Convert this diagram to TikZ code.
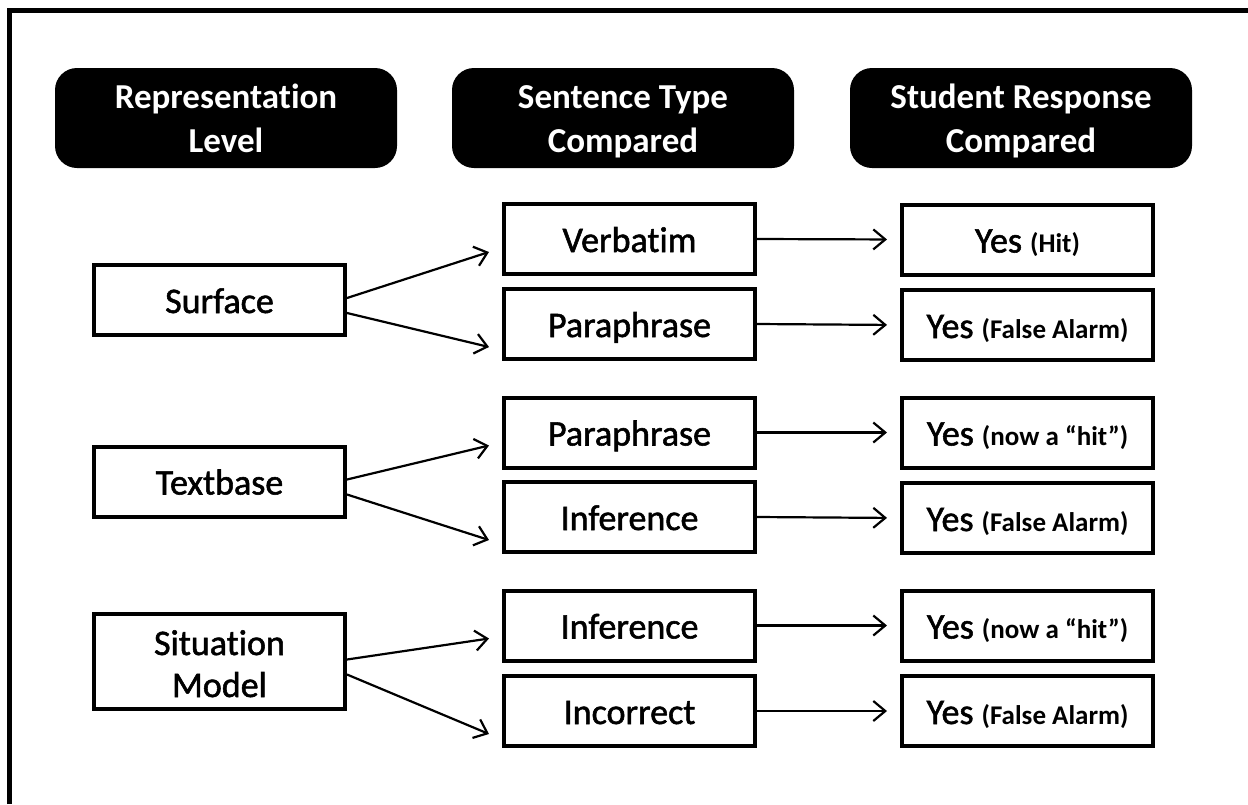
\documentclass[tikz,border=0pt]{standalone}
\usepackage{fontspec}
\setmainfont{Carlito}[Ligatures=NoCommon]
\newfontfamily\boxfont{Carlito}[Ligatures=NoCommon,FakeBold=1.5]
\usetikzlibrary{arrows.meta}
\newcommand\smtxt{\normalfont\bfseries\fontsize{27}{30}\selectfont}
\begin{document}
\begin{tikzpicture}[x=1pt,y=-1pt,
  hdr/.style={fill=black,rounded corners=22pt,minimum width=342pt,minimum height=100pt,inner sep=0pt,
    text=white,font=\bfseries\fontsize{35}{44}\selectfont,align=center},
  lbox/.style={draw=black,line width=4pt,minimum width=251pt,minimum height=70pt,inner sep=0pt,
    font=\boxfont\fontsize{36}{42}\selectfont,align=center},
  one/.style={text height=26pt,text depth=0pt},
  arr/.style={line width=2.2pt,-{Straight Barb[length=12pt,width=20pt,line width=2.2pt]}}
]
\useasboundingbox (0,0) rectangle (1248,804);
\draw[line width=4.5pt] (9.5,804) -- (9.5,10.5) -- (1250,10.5);

\node[hdr] (h1) at (226,118) {\rule{0pt}{32pt}Representation\\Level\rule[-8pt]{0pt}{8pt}};
\node[hdr] (h2) at (623,118) {\rule{0pt}{32pt}Sentence Type\\Compared\rule[-8pt]{0pt}{8pt}};
\node[hdr] (h3) at (1021,118) {\rule{0pt}{32pt}Student Response\\Compared\rule[-8pt]{0pt}{8pt}};

\node[lbox,one] (surf) at (219.5,300) {Surface};
\node[lbox,one] (text) at (219.5,481.5) {Textbase};
\node[lbox,minimum height=95pt] (sit) at (219.5,661.5) {\rule{0pt}{36pt}Situation\\Model\rule[-7pt]{0pt}{7pt}};

\node[lbox,one] (m1) at (629.5,239) {Verbatim};
\node[lbox,one] (m2) at (629.5,324) {Paraphrase};
\node[lbox,one] (m3) at (629.5,432.5) {Paraphrase};
\node[lbox,one] (m4) at (629.5,517) {Inference};
\node[lbox,one] (m5) at (629.5,625.5) {Inference};
\node[lbox,one] (m6) at (629.5,711) {Incorrect};

\node[lbox,one] (r1) at (1027.5,239.5) {Yes {\smtxt(Hit)}};
\node[lbox,one] (r2) at (1027.5,325) {Yes {\smtxt(False Alarm)}};
\node[lbox,one] (r3) at (1027.5,432.5) {Yes {\smtxt(now a \textquotedblleft hit\textquotedblright)}};
\node[lbox,one] (r4) at (1027.5,518) {Yes {\smtxt(False Alarm)}};
\node[lbox,one] (r5) at (1027.5,625.5) {Yes {\smtxt(now a \textquotedblleft hit\textquotedblright)}};
\node[lbox,one] (r6) at (1027.5,711) {Yes {\smtxt(False Alarm)}};

\foreach \a/\b/\c in {surf/m1/m2,text/m3/m4,sit/m5/m6}{
  \draw[arr] ([yshift=2pt]\a.east) -- ([xshift=-13pt,yshift=-13pt]\b.west);
  \draw[arr] ([yshift=-13pt]\a.east) -- ([xshift=-13pt,yshift=-23pt]\c.west);
}
\foreach \i in {1,...,6}{
  \draw[arr,shorten >=13pt] (m\i.east) -- (r\i.west);
}
\end{tikzpicture}
\end{document}
